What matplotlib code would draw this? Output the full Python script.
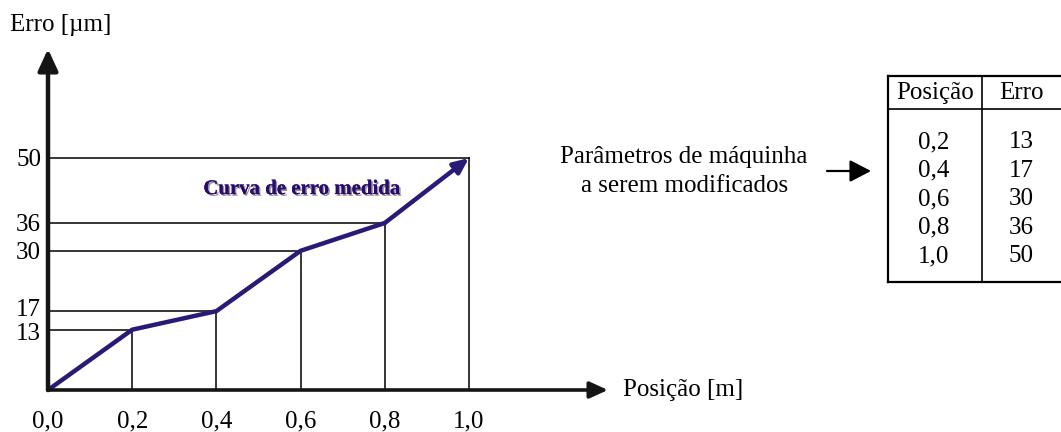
import matplotlib.pyplot as plt
import matplotlib.patheffects as pe
from matplotlib.patches import FancyArrowPatch

# dados da curva de erro
posicao = [0.0, 0.2, 0.4, 0.6, 0.8, 1.0]
erro = [0, 13, 17, 30, 36, 50]
x_labels = ['0,0', '0,2', '0,4', '0,6', '0,8', '1,0']
y_labels = ['13', '17', '30', '36', '50']
tab_pos = ['0,2', '0,4', '0,6', '0,8', '1,0']
tab_erro = ['13', '17', '30', '36', '50']

plt.rcParams['font.family'] = ['Liberation Serif', 'DejaVu Serif']
W, H = 1061, 432
fs = 18
fig = plt.figure(figsize=(W / 100, H / 100), dpi=100)

# eixos posicionados em pixels: origem (48, 390), x=1 -> 469, y=50 -> 158
ax = fig.add_axes([48 / W, (H - 390) / H, 421 / W, 232 / H])
ax.set_xlim(0, 1)
ax.set_ylim(0, 50)
ax.axis('off')

k = 'black'
# linhas de referencia
for x, y in zip(posicao[1:], erro[1:]):
    ax.plot([0, x], [y, y], color=k, lw=1.1, clip_on=False)
    ax.plot([x, x], [0, y], color=k, lw=1.1, clip_on=False)

# eixos com setas
ax.annotate('', xy=(0, 73.5), xytext=(0, 0),
            arrowprops=dict(arrowstyle='-|>,head_length=1.3,head_width=0.6',
                            color='#151515', lw=3.2, shrinkA=0, shrinkB=0),
            annotation_clip=False)
ax.annotate('', xy=(1.33, 0), xytext=(0, 0),
            arrowprops=dict(arrowstyle='-|>,head_length=1.1,head_width=0.5',
                            color='#151515', lw=2.6, shrinkA=0, shrinkB=0),
            annotation_clip=False)

# curva medida
cor = '#2a1a78'
ax.plot(posicao[:-1], erro[:-1], color=cor, lw=3.2, solid_capstyle='round',
        solid_joinstyle='round', clip_on=False)
ax.annotate('', xy=(posicao[-1], erro[-1]), xytext=(posicao[-2], erro[-2]),
            arrowprops=dict(arrowstyle='-|>,head_length=0.9,head_width=0.4',
                            color=cor, lw=3.2, shrinkA=0, shrinkB=0),
            annotation_clip=False)

ax.text(0.603, 43.3, 'Curva de erro medida', color='#2a0a6e', fontsize=15,
        fontweight='bold', ha='center', va='center',
        path_effects=[pe.withSimplePatchShadow(offset=(1.2, -1.2),
                                               shadow_rgbFace='#666666', alpha=0.7),
                      pe.Normal()])

# rotulos dos eixos
for x, lab in zip(posicao, x_labels):
    ax.text(x, -6.8, lab, fontsize=fs, ha='center', va='center', clip_on=False)
for y, lab in zip(erro[1:], y_labels):
    # os rotulos 13 e 17 ficam muito proximos: afasta um pouco
    dy = {'13': -4.5, '17': 1.5}.get(lab, -2)
    ax.annotate(lab, (0, y), xytext=(-7, dy), textcoords='offset pixels',
                fontsize=fs, ha='right', va='center', annotation_clip=False)

def fx(px):
    return px / W

def fy(py):
    return 1 - py / H

fig.text(fx(10), fy(25), 'Erro [\u00b5m]', fontsize=fs, ha='left', va='center')
fig.text(fx(623), fy(390), 'Posição [m]', fontsize=fs, ha='left', va='center')

# anotacao e tabela
fig.text(fx(684), fy(163), 'Parâmetros de máquinha', fontsize=fs,
         ha='center', va='baseline')
fig.text(fx(685), fy(192), 'a serem modificados', fontsize=fs,
         ha='center', va='baseline')
fig.patches.append(FancyArrowPatch(
    (fx(827), fy(171)), (fx(871), fy(171)), transform=fig.transFigure,
    arrowstyle='-|>,head_length=5,head_width=2.6', mutation_scale=2.6,
    color='black', lw=1.6, shrinkA=0, shrinkB=0))

lw_t = 1.6
fig.add_artist(plt.Line2D([fx(888), fx(1061)], [fy(76), fy(76)], color=k, lw=lw_t))
fig.add_artist(plt.Line2D([fx(888), fx(1061)], [fy(109), fy(109)], color=k, lw=1.2))
fig.add_artist(plt.Line2D([fx(888), fx(1061)], [fy(282), fy(282)], color=k, lw=lw_t))
fig.add_artist(plt.Line2D([fx(888), fx(888)], [fy(76), fy(282)], color=k, lw=lw_t))
fig.add_artist(plt.Line2D([fx(982), fx(982)], [fy(76), fy(282)], color=k, lw=1.2))

fig.text(fx(935), fy(99), 'Posição', fontsize=fs, ha='center', va='baseline')
fig.text(fx(1021), fy(99), 'Erro', fontsize=fs, ha='center', va='baseline')
for i, (p, e) in enumerate(zip(tab_pos, tab_erro)):
    yy = 148 + i * 28.5
    fig.text(fx(934), fy(yy), p, fontsize=fs, ha='center', va='baseline')
    fig.text(fx(1021), fy(yy), e, fontsize=fs, ha='center', va='baseline')

fig.savefig('out.png', dpi=100)
